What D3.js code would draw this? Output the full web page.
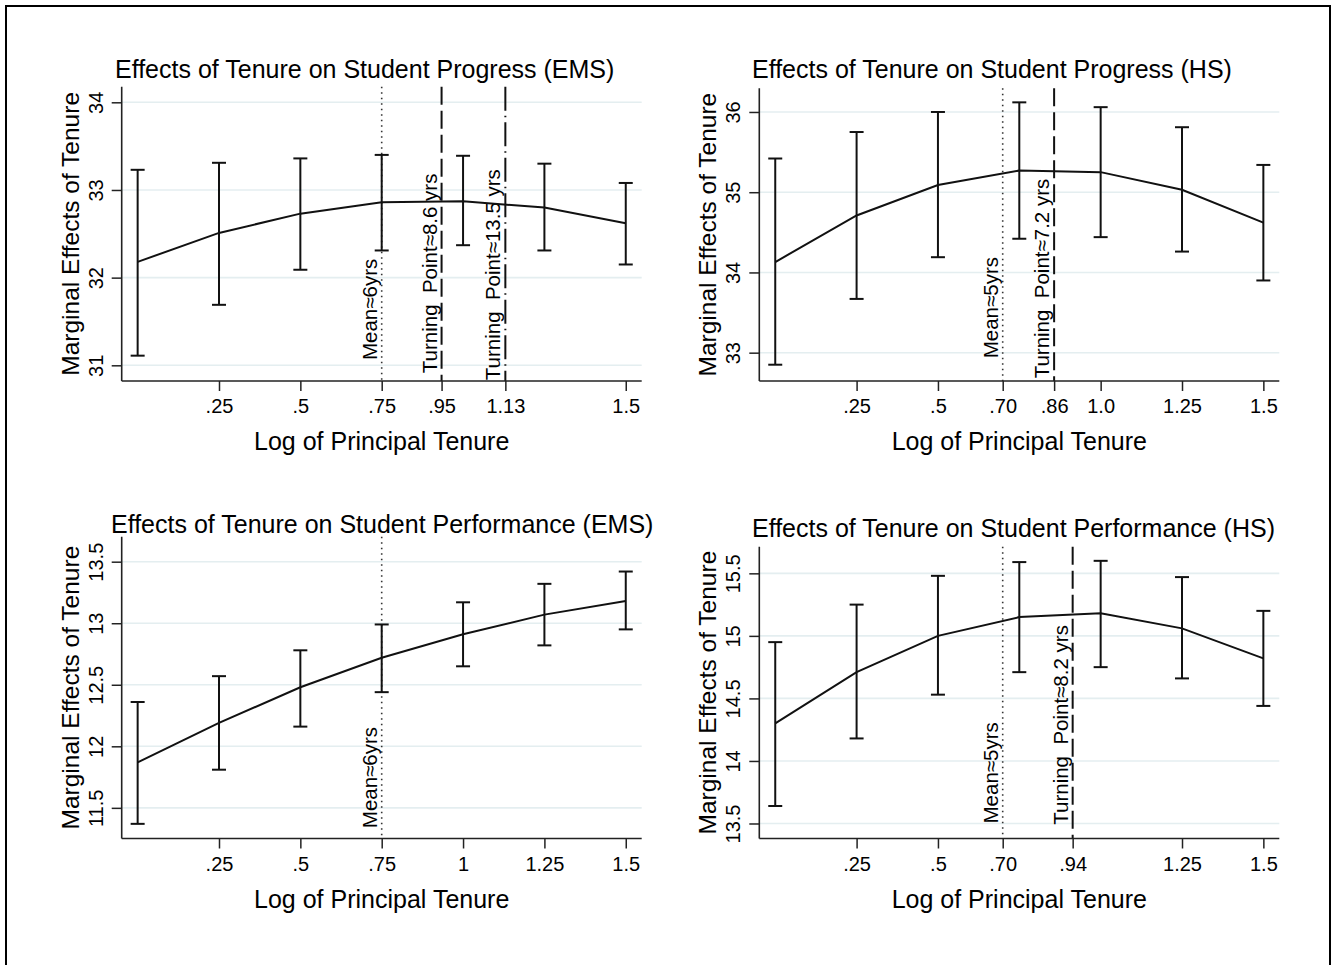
<!DOCTYPE html>
<html>
<head>
<meta charset="utf-8">
<title>Effects of Tenure</title>
<script src="https://cdn.jsdelivr.net/npm/d3@7"></script>
<style>
  body { margin: 0; background: #fff; }
  text { font-family: "Liberation Sans", Arial, sans-serif; fill: #000; }
</style>
</head>
<body>
<script>
// x values (log of principal tenure) shared by all four panels
var tenure = [0, .25, .5, .75, 1, 1.25, 1.5];

// student progress, EMS
var progEmsMid = [32.18, 32.51, 32.73, 32.86, 32.87, 32.80, 32.62];
var progEmsLo  = [31.11, 31.69, 32.09, 32.31, 32.37, 32.31, 32.15];
var progEmsHi  = [33.23, 33.31, 33.36, 33.40, 33.39, 33.30, 33.08];

// student progress, HS
var progHsMid = [34.13, 34.71, 35.09, 35.27, 35.25, 35.03, 34.62];
var progHsLo  = [32.85, 33.67, 34.19, 34.42, 34.44, 34.26, 33.90];
var progHsHi  = [35.42, 35.75, 36.00, 36.12, 36.06, 35.81, 35.34];

// student performance, EMS
var perfEmsMid = [11.87, 12.19, 12.48, 12.72, 12.91, 13.07, 13.18];
var perfEmsLo  = [11.37, 11.81, 12.16, 12.44, 12.65, 12.82, 12.95];
var perfEmsHi  = [12.36, 12.57, 12.78, 12.99, 13.17, 13.32, 13.42];

// student performance, HS
var perfHsMid = [14.30, 14.71, 15.00, 15.15, 15.18, 15.06, 14.82];
var perfHsLo  = [13.64, 14.18, 14.53, 14.71, 14.75, 14.66, 14.44];
var perfHsHi  = [14.95, 15.25, 15.48, 15.59, 15.60, 15.47, 15.20];

// tick values and labels
var xTicksProgEms = [.25, .5, .75, .934, 1.13, 1.5];
var xLabelsProgEms = [".25", ".5", ".75", ".95", "1.13", "1.5"];
var xTicksProgHs = [.25, .5, .699, .857, 1, 1.25, 1.5];
var xLabelsProgHs = [".25", ".5", ".70", ".86", "1.0", "1.25", "1.5"];
var xTicksPerfEms = [.25, .5, .75, 1, 1.25, 1.5];
var xLabelsPerfEms = [".25", ".5", ".75", "1", "1.25", "1.5"];
var xTicksPerfHs = [.25, .5, .699, .914, 1.25, 1.5];
var xLabelsPerfHs = [".25", ".5", ".70", ".94", "1.25", "1.5"];

var yTicksProgEms = [31, 32, 33, 34];
var yTicksProgHs = [33, 34, 35, 36];
var yTicksPerfEms = [11.5, 12, 12.5, 13, 13.5];
var yTicksPerfHs = [13.5, 14, 14.5, 15, 15.5];

// reference lines: x value, label, where the label starts (y value)
var refProgEms = [
  {x: .75,  text: "Mean\u22486yrs", at: 31.06, kind: "dot"},
  {x: .934, text: "Turning  Point\u22488.6 yrs", at: 30.91, kind: "dash"},
  {x: 1.13, text: "Turning  Point\u224813.5 yrs", at: 30.83, kind: "dashdot"}
];
var refProgHs = [
  {x: .699, text: "Mean\u22485yrs", at: 32.93, kind: "dot"},
  {x: .857, text: "Turning  Point\u22487.2 yrs", at: 32.68, kind: "dash"}
];
var refPerfEms = [
  {x: .75, text: "Mean\u22486yrs", at: 11.335, kind: "dot"}
];
var refPerfHs = [
  {x: .699, text: "Mean\u22485yrs", at: 13.50, kind: "dot"},
  {x: .914, text: "Turning  Point\u22488.2 yrs", at: 13.49, kind: "dash"}
];

var dashes = {dot: "1.5,4", dash: "18,6", dashdot: "24,5,1.5,5"};

var svg = d3.select("body").append("svg")
  .attr("width", 1337)
  .attr("height", 965);

// outer frame
svg.append("rect")
  .attr("x", 6).attr("y", 6)
  .attr("width", 1324).attr("height", 975)
  .attr("fill", "none")
  .attr("stroke", "#000")
  .attr("stroke-width", 2);

var panels = [
  {title: "Effects of Tenure on Student Progress (EMS)", left: 121.7, top: 86.7, bottom: 381, titleX: 115, titleY: 78,
   yDom: [30.821, 34.178], yTicks: yTicksProgEms, xTicks: xTicksProgEms, xLabels: xLabelsProgEms,
   mid: progEmsMid, lo: progEmsLo, hi: progEmsHi, refs: refProgEms},
  {title: "Effects of Tenure on Student Progress (HS)", left: 759.3, top: 88.3, bottom: 381, titleX: 752, titleY: 78,
   yDom: [32.647, 36.295], yTicks: yTicksProgHs, xTicks: xTicksProgHs, xLabels: xLabelsProgHs,
   mid: progHsMid, lo: progHsLo, hi: progHsHi, refs: refProgHs},
  {title: "Effects of Tenure on Student Performance (EMS)", left: 121.7, top: 536.7, bottom: 838.5, titleX: 111, titleY: 533,
   yDom: [11.251, 13.703], yTicks: yTicksPerfEms, xTicks: xTicksPerfEms, xLabels: xLabelsPerfEms,
   mid: perfEmsMid, lo: perfEmsLo, hi: perfEmsHi, refs: refPerfEms},
  {title: "Effects of Tenure on Student Performance (HS)", left: 759.3, top: 546.7, bottom: 838.5, titleX: 752, titleY: 537,
   yDom: [13.38, 15.713], yTicks: yTicksPerfHs, xTicks: xTicksPerfHs, xLabels: xLabelsPerfHs,
   mid: perfHsMid, lo: perfHsLo, hi: perfHsHi, refs: refPerfHs}
];

var plotW = 520;

panels.forEach(function(p) {
  var g = svg.append("g");

  var x = d3.scaleLinear().domain([-0.049, 1.549]).range([p.left, p.left + plotW]);
  var y = d3.scaleLinear().domain(p.yDom).range([p.bottom, p.top]);

  // horizontal grid
  g.selectAll(".grid")
    .data(p.yTicks)
    .enter().append("line")
    .attr("x1", p.left).attr("x2", p.left + plotW)
    .attr("y1", function(d) { return y(d); })
    .attr("y2", function(d) { return y(d); })
    .attr("stroke", "#e4eef0")
    .attr("stroke-width", 1.6);

  // reference lines and their labels
  g.selectAll(".ref")
    .data(p.refs)
    .enter().append("line")
    .attr("x1", function(d) { return x(d.x); })
    .attr("x2", function(d) { return x(d.x); })
    .attr("y1", p.top).attr("y2", p.bottom)
    .attr("stroke", function(d) { return d.kind == "dot" ? "#333" : "#111"; })
    .attr("stroke-width", function(d) { return d.kind == "dot" ? 1.6 : 2; })
    .attr("stroke-dasharray", function(d) { return dashes[d.kind]; });

  g.selectAll(".reflab")
    .data(p.refs)
    .enter().append("text")
    .attr("transform", function(d) {
      return "translate(" + (x(d.x) - 5) + "," + y(d.at) + ") rotate(-90)";
    })
    .style("font-size", "20.5px")
    .style("white-space", "pre")
    .text(function(d) { return d.text; });

  // error bars
  var bars = g.selectAll(".bar")
    .data(tenure)
    .enter().append("g");

  bars.append("line")
    .attr("x1", function(d) { return x(d); })
    .attr("x2", function(d) { return x(d); })
    .attr("y1", function(d, i) { return y(p.lo[i]); })
    .attr("y2", function(d, i) { return y(p.hi[i]); });
  bars.append("line")
    .attr("x1", function(d) { return x(d) - 7; })
    .attr("x2", function(d) { return x(d) + 7; })
    .attr("y1", function(d, i) { return y(p.lo[i]); })
    .attr("y2", function(d, i) { return y(p.lo[i]); });
  bars.append("line")
    .attr("x1", function(d) { return x(d) - 7; })
    .attr("x2", function(d) { return x(d) + 7; })
    .attr("y1", function(d, i) { return y(p.hi[i]); })
    .attr("y2", function(d, i) { return y(p.hi[i]); });
  bars.selectAll("line")
    .attr("stroke", "#111")
    .attr("stroke-width", 2);

  // fitted line
  var line = d3.line()
    .x(function(d) { return x(d); })
    .y(function(d, i) { return y(p.mid[i]); });
  g.append("path")
    .datum(tenure)
    .attr("d", line)
    .attr("fill", "none")
    .attr("stroke", "#111")
    .attr("stroke-width", 2);

  // axes
  var xAxis = d3.axisBottom(x)
    .tickValues(p.xTicks)
    .tickFormat(function(d, i) { return p.xLabels[i]; })
    .tickSize(10).tickSizeOuter(0).tickPadding(8);
  var gx = g.append("g")
    .attr("transform", "translate(0," + p.bottom + ")")
    .call(xAxis);
  gx.select(".domain").attr("d", "M" + p.left + ",0H" + (p.left + plotW));

  var yAxis = d3.axisLeft(y)
    .tickValues(p.yTicks)
    .tickFormat(d3.format("~g"))
    .tickSize(10).tickSizeOuter(0);
  var gy = g.append("g")
    .attr("transform", "translate(" + p.left + ",0)")
    .call(yAxis);
  gy.select(".domain").attr("d", "M0," + p.top + "V" + p.bottom);
  gy.selectAll(".tick text")
    .attr("x", null).attr("dy", null)
    .attr("text-anchor", "middle")
    .attr("transform", "translate(-19,0) rotate(-90)");

  [gx, gy].forEach(function(a) {
    a.attr("font-family", null).attr("font-size", null);
    a.selectAll("text").style("font-size", "20px").attr("fill", "#000");
    a.selectAll("line").attr("stroke", "#222").attr("stroke-width", 1.5);
    a.select(".domain").attr("stroke", "#222").attr("stroke-width", 1.6);
  });

  // titles
  g.append("text")
    .attr("x", p.titleX).attr("y", p.titleY)
    .style("font-size", "25px")
    .text(p.title);

  g.append("text")
    .attr("x", p.left + plotW / 2).attr("y", p.bottom + 69)
    .attr("text-anchor", "middle")
    .style("font-size", "25px")
    .text("Log of Principal Tenure");

  g.append("text")
    .attr("transform", "translate(" + (p.left - 43) + "," + ((p.top + p.bottom) / 2) + ") rotate(-90)")
    .attr("text-anchor", "middle")
    .style("font-size", "24.5px")
    .text("Marginal Effects of Tenure");
});
</script>
</body>
</html>
